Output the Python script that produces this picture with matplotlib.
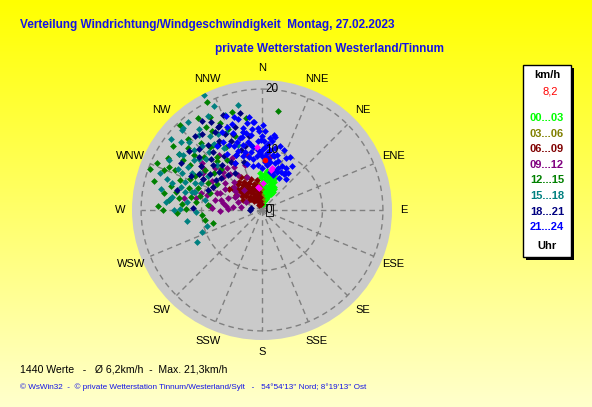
import matplotlib
matplotlib.use('Agg')
import matplotlib.pyplot as plt
import numpy as np
from matplotlib.patches import Rectangle

W, H = 592, 407

# Wind direction (deg, clockwise from N) and speed (km/h) per hour group
pts_00_03 = [(10, 1.0), (15, 1.5), (20, 2.0), (25, 2.5), (28, 3.0), (30, 3.5), (25, 4.0), (20, 4.5),
             (15, 5.0), (10, 5.5), (12, 6.3), (7, 6.1), (357, 6.1), (5, 5.0), (0, 4.5), (8, 4.0),
             (12, 3.5), (18, 3.0), (22, 3.5), (28, 4.4), (18, 5.5), (3, 5.8), (14, 2.5), (8, 2.0),
             (2, 3.0), (6, 1.5), (24, 5.0), (30, 4.0), (20, 6.0), (16, 4.2), (4, 3.8), (10, 4.8),
             (358, 5.4), (0, 3.5), (12, 1.5), (15, 6.0), (8, 6.5), (22, 5.5), (26, 3.5), (4, 4.8),
             (18, 2.0), (10, 3.0), (2, 2.0)]
pts_03_06 = [(350, 3.0), (355, 2.5), (345, 3.5), (352, 4.0), (358, 1.5), (340, 2.5), (348, 1.8),
             (356, 3.5), (343, 4.2), (0, 2.0), (338, 3.8), (353, 1.0), (346, 2.8), (350, 4.5)]
pts_06_09 = [(306, 6.2), (310, 5.5), (315, 5.0), (320, 4.5), (325, 4.0), (330, 3.5), (335, 3.0),
             (340, 2.5), (345, 2.0), (350, 1.5), (320, 6.0), (328, 5.5), (335, 5.0), (342, 4.5),
             (348, 4.0), (352, 3.0), (318, 3.0), (312, 3.5), (305, 4.0), (300, 5.0), (330, 2.0),
             (338, 1.5), (325, 1.0), (355, 1.0), (345, 3.5), (332, 4.8), (322, 3.8), (315, 2.5),
             (308, 2.8), (340, 5.5), (350, 5.0), (327, 6.5), (313, 4.2), (298, 3.5), (303, 6.5),
             (336, 4.0), (344, 1.0), (317, 5.8), (322, 5.2), (330, 4.5), (338, 3.5), (346, 2.8),
             (310, 4.8), (334, 6.0), (326, 2.5), (318, 2.0), (340, 4.0), (352, 2.2)]
pts_09_12 = [(279, 13.0), (280, 11.0), (305, 12.0), (272, 8.3), (282, 7.9), (292, 7.5), (274, 8.6),
             (272, 5.6), (301, 4.8), (275, 4.8), (288, 4.2), (9, 8.9), (285, 9.5), (295, 9.0),
             (300, 7.0), (310, 8.5), (315, 6.5), (320, 9.0), (290, 6.0), (280, 6.5), (305, 5.5),
             (325, 7.0), (330, 10.0), (312, 10.5), (298, 11.0), (268, 7.0), (278, 3.5), (295, 3.0),
             (318, 4.5), (335, 6.0), (340, 8.0), (345, 9.5), (308, 12.5), (322, 11.5), (285, 11.6),
             (300, 9.5), (306, 7.5), (290, 8.0), (284, 7.0), (296, 5.0), (310, 6.0), (318, 8.0),
             (327, 8.5), (276, 6.0), (286, 10.5), (302, 11.5), (314, 9.0)]
pts_12_15 = [(290, 19.7), (272, 17.2), (270, 16.3), (306, 18.1), (299, 17.7), (333, 20.1), (331, 17.6),
             (9, 16.6), (343, 17.0), (350, 15.5), (295, 16.9), (295, 15.8), (278, 13.8), (274, 13.3),
             (271, 12.6), (287, 12.6), (289, 11.2), (255, 8.4), (275, 8.9), (316, 19.5), (325, 18.5),
             (310, 16.0), (318, 15.0), (302, 14.0), (312, 13.0), (323, 13.5), (328, 15.5), (337, 14.5),
             (305, 11.5), (296, 10.0), (283, 10.5), (300, 8.5), (315, 9.5), (320, 11.5), (330, 12.0),
             (308, 10.0), (290, 14.5), (280, 12.0), (265, 10.0), (325, 10.0), (340, 13.0), (297, 12.5),
             (304, 16.5), (309, 14.5), (314, 17.0), (320, 13.5), (300, 12.0), (293, 13.0), (285, 15.5),
             (277, 11.0), (288, 9.0), (302, 15.5), (326, 16.5), (334, 16.0), (318, 11.0), (292, 17.5),
             (282, 14.5), (285, 18.5), (276, 15.5), (268, 14.0), (260, 9.5), (280, 16.5), (294, 19.0)]
pts_15_18 = [(333, 21.3), (315, 18.8), (304, 16.6), (313, 16.4), (320, 16.2), (335, 18.9), (288, 16.5),
             (278, 15.0), (271, 13.6), (295, 14.6), (300, 14.1), (254, 9.5), (244, 11.9), (277, 15.3),
             (316, 18.8), (287, 15.5), (298, 13.1), (339, 16.9), (346, 13.3), (347, 17.8), (310, 17.5),
             (306, 14.0), (318, 13.0), (325, 15.0), (292, 12.0), (285, 11.5), (302, 10.5), (312, 12.5),
             (328, 12.0), (322, 17.0), (308, 19.0), (330, 18.0), (298, 17.5), (283, 13.0), (276, 12.5),
             (268, 11.0), (280, 9.5), (315, 10.5), (340, 11.5), (335, 14.0), (305, 16.0), (311, 15.0),
             (317, 14.5), (296, 15.5), (290, 13.5), (324, 13.5), (330, 14.5), (301, 12.0), (294, 11.0),
             (320, 19.0), (309, 13.5), (286, 14.0), (282, 17.0), (275, 16.0), (290, 18.0), (284, 12.0),
             (270, 14.5), (262, 12.5), (250, 10.5)]
pts_18_21 = [(326, 17.7), (333, 15.6), (309, 15.6), (310, 13.7), (283, 14.4), (296, 13.0), (272, 11.5),
             (280, 1.8), (270, 2.0), (339, 13.4), (332, 15.5), (320, 14.0), (315, 12.0), (325, 11.0),
             (318, 10.0), (330, 9.0), (336, 12.5), (342, 14.5), (345, 11.0), (322, 16.0), (312, 11.0),
             (305, 10.5), (300, 12.0), (328, 13.5), (335, 10.0), (340, 8.5), (316, 8.0), (324, 7.5),
             (308, 8.5), (290, 9.5), (350, 12.5), (347, 16.5), (338, 17.0), (330, 16.8), (300, 15.5),
             (295, 9.0), (320, 12.5), (326, 13.0), (314, 14.5), (306, 12.5), (298, 11.0), (334, 14.0),
             (329, 15.0), (318, 16.5), (311, 9.5), (303, 9.0), (327, 9.5), (341, 10.5)]
pts_21_24 = [(339, 16.6), (345, 15.6), (350, 14.6), (355, 14.6), (359, 11.6), (10, 12.3), (34, 8.8),
             (28, 6.0), (32, 7.2), (11, 9.3), (346, 13.3), (339, 13.6), (330, 13.0), (328, 11.0),
             (325, 13.0), (21, 7.5), (13, 9.1), (31, 7.0), (0, 12.2), (354, 14.7), (5, 11.0), (2, 13.0),
             (357, 13.5), (20, 10.5), (25, 9.5), (15, 8.0), (8, 10.0), (3, 9.0), (358, 9.5), (352, 10.5),
             (348, 11.5), (344, 10.0), (340, 12.0), (336, 11.5), (350, 8.5), (355, 7.5), (0, 7.0),
             (6, 7.5), (12, 6.5), (18, 6.0), (24, 8.0), (35, 7.5), (28, 10.0), (16, 11.0), (9, 12.5),
             (343, 16.0), (337, 15.0), (333, 14.5), (346, 9.0), (341, 9.5), (335, 10.0), (330, 9.0),
             (352, 12.5), (357, 11.5), (3, 10.5), (7, 8.5), (38, 6.5), (22, 6.8), (348, 7.5), (342, 8.0),
             (345, 12.5), (350, 11.0), (355, 9.0), (0, 10.0), (5, 9.5), (10, 8.0), (15, 9.5), (358, 13.0),
             (2, 11.5), (8, 11.5), (12, 10.5), (18, 8.5), (353, 13.5), (348, 13.0), (343, 12.5),
             (338, 10.5), (333, 12.0), (347, 14.0), (352, 15.5), (341, 15.0), (26, 7.0), (30, 8.0),
             (17, 7.0), (4, 8.0), (0, 9.0), (356, 10.0), (349, 9.8), (344, 11.2), (6, 12.0), (1, 14.0)]
pts_avg = [(352, 3.7), (12, 6.8), (355, 10.4), (3, 4.4), (13, 7.1), (351, 3.9)]
current = (3, 8.2)

groups = [pts_00_03, pts_03_06, pts_06_09, pts_09_12, pts_12_15, pts_15_18, pts_18_21, pts_21_24]
hour_labels = ['00...03', '03...06', '06...09', '09...12', '12...15', '15...18', '18...21', '21...24']
hour_colors = ['#00ff00', '#808000', '#800000', '#800080', '#008000', '#008080', '#000080', '#0000ff']
compass = ['N', 'NNE', 'NE', 'ENE', 'E', 'ESE', 'SE', 'SSE',
           'S', 'SSW', 'SW', 'WSW', 'W', 'WNW', 'NW', 'NNW']
rings = [10, 20]

fig = plt.figure(figsize=(W / 100, H / 100), dpi=100)

# background gradient
bg = fig.add_axes([0, 0, 1, 1], zorder=-5)
grad = np.linspace(0, 1, 256)
img = np.ones((256, 1, 3))
img[:, 0, 2] = grad * 0.80
bg.imshow(img, aspect='auto', extent=[0, W, H, 0])
bg.set_xlim(0, W)
bg.set_ylim(H, 0)
bg.axis('off')


def px(x, y):
    return x / W, 1 - y / H


# polar plot
cx, cy, rad = 262, 210, 130
rmax = 21.5
ax = fig.add_axes([(cx - rad) / W, (H - cy - rad) / H, 2 * rad / W, 2 * rad / H],
                  projection='polar')
ax.set_theta_zero_location('N')
ax.set_theta_direction(-1)
ax.set_ylim(0, rmax)
ax.set_facecolor('#cacaca')
ax.grid(False)
ax.set_xticks([])
ax.set_yticks([])
ax.spines['polar'].set_visible(False)

th = np.linspace(0, 2 * np.pi, 400)
for r in rings:
    ax.plot(th, np.full_like(th, r), color='#808080', lw=1, ls=(0, (4, 3)), zorder=1)
for i in range(16):
    a = np.deg2rad(i * 22.5)
    ax.plot([a, a], [0, rings[-1]], color='#808080', lw=1, ls=(0, (4, 3)), zorder=1)

for pts, col in zip(groups, hour_colors):
    d = np.deg2rad([p[0] for p in pts])
    s = [p[1] for p in pts]
    ax.scatter(d, s, marker='D', s=12, color=col, linewidths=0, zorder=3)

ax.scatter(np.deg2rad([p[0] for p in pts_avg]), [p[1] for p in pts_avg],
           marker='D', s=12, color='#ff00ff', linewidths=0, zorder=4)
ax.scatter([np.deg2rad(current[0])], [current[1]], marker='o', s=16, color='#ff0000',
           linewidths=0, zorder=5)

for i, lab in enumerate(compass):
    ax.text(np.deg2rad(i * 22.5), 23.5, lab, ha='center', va='center', fontsize=8,
            family='Liberation Sans', clip_on=False)

# ring labels
for r in rings:
    fig.text(*px(265, cy - r * rad / rmax), str(r), ha='left', va='center', fontsize=8.5,
             family='Liberation Sans')
fig.text(*px(266, cy), '0', ha='left', va='center', fontsize=8.5, family='Liberation Sans',
         bbox=dict(facecolor='none', edgecolor='black', lw=0.6, pad=0.1))

# titles
tfam = ['Liberation Sans Narrow', 'Liberation Sans']
fig.text(*px(20, 25), 'Verteilung Windrichtung/Windgeschwindigkeit  Montag, 27.02.2023',
         ha='left', va='center', fontsize=8.5, fontweight='bold', color='#1414e6', family=tfam)
fig.text(*px(215, 49), 'private Wetterstation Westerland/Tinnum',
         ha='left', va='center', fontsize=8.5, fontweight='bold', color='#1414e6', family=tfam)

fig.text(*px(20, 369), '1440 Werte   -   \u00d8 6,2km/h  -  Max. 21,3km/h',
         ha='left', va='center', fontsize=7.6, family='Liberation Sans')
fig.text(*px(20, 387),
         "\u00a9 WsWin32  -  \u00a9 private Wetterstation Tinnum/Westerland/Sylt   -   "
         "54\u00b054'13'' Nord; 8\u00b019'13'' Ost",
         ha='left', va='center', fontsize=5.9, color='#1414e6', family='Liberation Sans')

# legend box
bx0, by0, bx1, by1 = 523, 65, 571, 257
fig.patches.append(Rectangle(px(bx0 + 3, by1 + 3), (bx1 - bx0) / W, (by1 - by0) / H,
                             transform=fig.transFigure, facecolor='black', edgecolor='none',
                             zorder=1))
fig.patches.append(Rectangle(px(bx0, by1), (bx1 - bx0) / W, (by1 - by0) / H,
                             transform=fig.transFigure, facecolor='white', edgecolor='black',
                             lw=1, zorder=2))
lx = (bx0 + bx1) / 2
fig.text(*px(lx, 75), 'km/h', ha='center', va='center', fontsize=8, fontweight='bold',
         family='Liberation Sans')
fig.text(*px(lx + 3, 92), f'{current[1]:.1f}'.replace('.', ','), ha='center', va='center',
         fontsize=8, color='#ff0000', family='Liberation Sans')
for i, (lab, col) in enumerate(zip(hour_labels, hour_colors)):
    fig.text(*px(lx, 118 + i * 15.6), lab, ha='center', va='center', fontsize=8,
             fontweight='bold', color=col, family='Liberation Sans')
fig.text(*px(lx, 246), 'Uhr', ha='center', va='center', fontsize=8, fontweight='bold',
         family='Liberation Sans')

fig.savefig('out.png', dpi=100)
